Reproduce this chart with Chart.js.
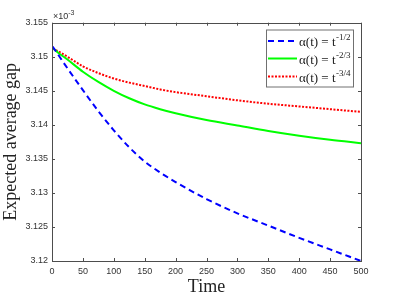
<!DOCTYPE html>
<html>
<head>
<meta charset="utf-8">
<script src="https://cdn.jsdelivr.net/npm/chart.js@4"></script>
<style>
html,body{margin:0;padding:0;background:#fff;}
#wrap{width:399px;height:299px;}
</style>
</head>
<body>
<div id="wrap"><canvas id="c" width="399" height="299"></canvas></div>
<script>
// Time points (x)
const times = [1, 10, 25, 50, 75, 100, 125, 150, 175, 200, 250, 300, 350, 400, 450, 500];
// Expected average gap, in units of 1e-3
const gapHalf = [3.1515, 3.1503, 3.1483, 3.1451, 3.1420, 3.1392, 3.1367, 3.1346, 3.1330, 3.1316, 3.1291, 3.1270, 3.1252, 3.1234, 3.1217, 3.1200];
const gapTwoThirds = [3.1513, 3.1506, 3.1496, 3.1478, 3.1463, 3.1450, 3.1439, 3.1430, 3.1423, 3.1417, 3.1407, 3.1399, 3.1391, 3.1384, 3.1378, 3.1373];
const gapThreeQuarters = [3.1512, 3.1508, 3.1500, 3.1486, 3.1476, 3.1468, 3.1462, 3.1457, 3.1452, 3.1448, 3.1442, 3.1436, 3.1431, 3.1427, 3.1423, 3.1419];
const seriesExponents = ['-1/2', '-2/3', '-3/4'];
const xTicks = [0, 50, 100, 150, 200, 250, 300, 350, 400, 450, 500];
const yTickLabels = ['3.12', '3.125', '3.13', '3.135', '3.14', '3.145', '3.15', '3.155'];
const yTickValues = [3.12, 3.125, 3.13, 3.135, 3.14, 3.145, 3.15, 3.155];

const pts = (ys) => times.map((t, i) => ({x: t, y: ys[i]}));

const AX = '#4d4d4d';
const serif = '"Liberation Serif", "DejaVu Serif", serif';
const sans = '"Liberation Sans", Arial, sans-serif';

const decor = {
  id: 'decor',
  afterDraw(chart) {
    const ctx = chart.ctx;
    const a = chart.chartArea;
    const xs = chart.scales.x, ys = chart.scales.y;
    ctx.save();
    ctx.strokeStyle = AX;
    ctx.lineWidth = 1;
    ctx.strokeRect(Math.round(a.left) + 0.5, Math.round(a.top) + 0.5, Math.round(a.right - a.left), Math.round(a.bottom - a.top));
    ctx.beginPath();
    xTicks.forEach(v => {
      const px = Math.round(xs.getPixelForValue(v)) + 0.5;
      ctx.moveTo(px, a.bottom); ctx.lineTo(px, a.bottom - 3);
      ctx.moveTo(px, a.top); ctx.lineTo(px, a.top + 3);
    });
    yTickValues.forEach(v => {
      const py = Math.round(ys.getPixelForValue(v)) + 0.5;
      ctx.moveTo(a.left, py); ctx.lineTo(a.left + 3, py);
      ctx.moveTo(a.right, py); ctx.lineTo(a.right - 3, py);
    });
    ctx.stroke();
    ctx.fillStyle = '#333';
    ctx.font = '9px ' + sans;
    ctx.textAlign = 'left';
    ctx.textBaseline = 'alphabetic';
    ctx.fillText('\u00d710', a.left + 1, a.top - 4);
    const w = ctx.measureText('\u00d710').width;
    ctx.font = '7px ' + sans;
    ctx.fillText('-3', a.left + 1 + w, a.top - 8);
    ctx.fillStyle = '#222';
    ctx.font = '18px ' + serif;
    ctx.textAlign = 'center';
    ctx.textBaseline = 'middle';
    ctx.fillText('Time', (a.left + a.right) / 2, 287);
    ctx.save();
    ctx.translate(11, (a.top + a.bottom) / 2);
    ctx.rotate(-Math.PI / 2);
    ctx.fillText('Expected average gap', 0, 0);
    ctx.restore();
    const lx = 266, ly = 29.5, lw = 87, lh = 57;
    ctx.fillStyle = '#fff';
    ctx.fillRect(lx, ly, lw, lh);
    ctx.strokeStyle = '#707070';
    ctx.lineWidth = 1;
    ctx.strokeRect(lx + 0.5, ly + 0.5, lw, lh);
    const rows = [41, 58.5, 76.5];
    chart.data.datasets.forEach((ds, i) => {
      const y = rows[i];
      ctx.save();
      ctx.strokeStyle = ds.borderColor;
      ctx.lineWidth = ds.borderWidth;
      ctx.setLineDash(ds.borderDash || []);
      ctx.beginPath();
      ctx.moveTo(268, y); ctx.lineTo(297, y);
      ctx.stroke();
      ctx.restore();
      ctx.fillStyle = '#222';
      ctx.textAlign = 'left';
      ctx.textBaseline = 'alphabetic';
      ctx.font = '13px ' + serif;
      const base = '\u03b1(t) = t';
      ctx.fillText(base, 299, y + 5);
      const bw = ctx.measureText(base).width;
      ctx.font = '9px ' + serif;
      ctx.fillText(seriesExponents[i], 299 + bw + 0.5, y - 1);
    });
    ctx.restore();
  }
};

new Chart(document.getElementById('c'), {
  type: 'line',
  data: {
    datasets: [
      {label: '\u03b1(t) = t^-1/2', data: pts(gapHalf), borderColor: '#0000ff', borderWidth: 2, borderDash: [6, 4], pointRadius: 0, cubicInterpolationMode: 'monotone', fill: false},
      {label: '\u03b1(t) = t^-2/3', data: pts(gapTwoThirds), borderColor: '#00ff00', borderWidth: 2, pointRadius: 0, cubicInterpolationMode: 'monotone', fill: false},
      {label: '\u03b1(t) = t^-3/4', data: pts(gapThreeQuarters), borderColor: '#ff0000', borderWidth: 2, borderDash: [2, 1.5], pointRadius: 0, cubicInterpolationMode: 'monotone', fill: false}
    ]
  },
  options: {
    responsive: false,
    animation: false,
    devicePixelRatio: 1,
    layout: {padding: {top: 22.7, right: 38, left: 0, bottom: 0}},
    plugins: {legend: {display: false}, tooltip: {enabled: false}},
    scales: {
      x: {
        type: 'linear', min: 0, max: 500,
        afterBuildTicks: (s) => { s.ticks = xTicks.map(v => ({value: v})); },
        afterFit: (s) => { s.height = 38; },
        grid: {display: false, drawTicks: false},
        border: {display: false},
        ticks: {color: '#333', font: {family: sans, size: 9}, padding: 5, maxRotation: 0, autoSkip: false}
      },
      y: {
        type: 'linear', min: 3.12, max: 3.155,
        afterBuildTicks: (s) => { s.ticks = yTickValues.map(v => ({value: v})); },
        afterFit: (s) => { s.width = 52; },
        grid: {display: false, drawTicks: false},
        border: {display: false},
        ticks: {color: '#333', font: {family: sans, size: 9}, padding: 4, autoSkip: false,
          callback: (v) => { const i = yTickValues.findIndex(t => Math.abs(t - v) < 1e-9); return i >= 0 ? yTickLabels[i] : ''; }}
      }
    }
  },
  plugins: [decor]
});
</script>
</body>
</html>
